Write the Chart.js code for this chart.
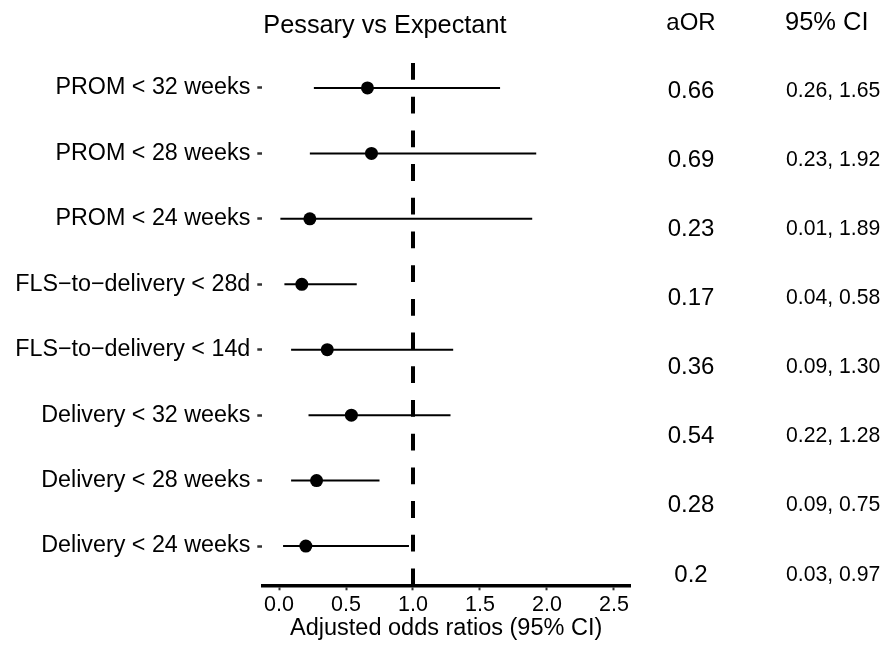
<!DOCTYPE html>
<html>
<head>
<meta charset="utf-8">
<script src="https://cdn.jsdelivr.net/npm/chart.js@4"></script>
<style>
  html, body { margin: 0; padding: 0; background: #fff; }
  #wrap { width: 886px; height: 645px; position: relative; }
</style>
</head>
<body>
<div id="wrap"><canvas id="myChart" width="886" height="645"></canvas></div>
<script>
// outcomes, top to bottom
const categories = [
    'PROM < 32 weeks',
    'PROM < 28 weeks',
    'PROM < 24 weeks',
    'FLS\u2212to\u2212delivery < 28d',
    'FLS\u2212to\u2212delivery < 14d',
    'Delivery < 32 weeks',
    'Delivery < 28 weeks',
    'Delivery < 24 weeks'
];
const aor = [0.66, 0.69, 0.23, 0.17, 0.36, 0.54, 0.28, 0.2];
const ciLow = [0.26, 0.23, 0.01, 0.04, 0.09, 0.22, 0.09, 0.03];
const ciHigh = [1.65, 1.92, 1.89, 0.58, 1.30, 1.28, 0.75, 0.97];
const xTicks = [0, 0.5, 1, 1.5, 2, 2.5];
const refLine = 1;

const FONT = "'Liberation Sans', Arial, Helvetica, sans-serif";

// dashed line at OR = 1, drawn bottom-up like ggplot
const refLinePlugin = {
    id: 'refLine',
    beforeDatasetsDraw(chart) {
        const { ctx, chartArea, scales } = chart;
        const x = scales.x.getPixelForValue(refLine);
        ctx.save();
        ctx.strokeStyle = '#000';
        ctx.lineWidth = 4;
        ctx.setLineDash([16.8, 16.9]);
        ctx.beginPath();
        ctx.moveTo(x, chartArea.bottom);
        ctx.lineTo(x, chartArea.top);
        ctx.stroke();
        ctx.restore();
    }
};

// title and the aOR / CI table on the right
const tablePlugin = {
    id: 'table',
    afterDraw(chart) {
        const { ctx, chartArea, scales } = chart;
        ctx.save();
        ctx.fillStyle = '#000';
        ctx.textBaseline = 'alphabetic';

        ctx.font = '25.3px ' + FONT;
        ctx.textAlign = 'left';
        ctx.fillText('Pessary vs Expectant', chartArea.left + 1, 33);

        ctx.font = '24px ' + FONT;
        ctx.textAlign = 'center';
        ctx.fillText('aOR', 691, 30);
        ctx.font = '25.5px ' + FONT;
        ctx.textAlign = 'left';
        ctx.fillText('95% CI', 785, 30);

        aor.forEach((v, i) => {
            const y = scales.yTable.getPixelForValue(i);
            ctx.font = '24px ' + FONT;
            ctx.textAlign = 'center';
            ctx.fillText(String(v), 691, y + 24 * 0.716 / 2);
            ctx.font = '21.2px ' + FONT;
            ctx.textAlign = 'left';
            ctx.fillText(ciLow[i].toFixed(2) + ', ' + ciHigh[i].toFixed(2), 786, y + 21.2 * 0.716 / 2);
        });
        ctx.restore();
    }
};

const ciDatasets = categories.map((c, i) => ({
    type: 'scatter',
    label: c,
    data: [{ x: ciLow[i], y: i }, { x: ciHigh[i], y: i }],
    showLine: true,
    borderColor: '#000',
    borderWidth: 2,
    pointRadius: 0,
    order: 1
}));

const pointDataset = {
    type: 'scatter',
    label: 'aOR',
    data: aor.map((v, i) => ({ x: v, y: i })),
    backgroundColor: '#000',
    borderColor: '#000',
    pointRadius: 6.5,
    pointBorderWidth: 0,
    order: 0
};

const ctx = document.getElementById('myChart').getContext('2d');
const myChart = new Chart(ctx, {
    type: 'scatter',
    data: { datasets: [pointDataset, ...ciDatasets] },
    options: {
        responsive: false,
        animation: false,
        layout: { padding: { left: 0, right: 256, top: 48.7, bottom: 0 } },
        plugins: {
            legend: { display: false },
            tooltip: { enabled: false },
            title: { display: false }
        },
        scales: {
            x: {
                type: 'linear',
                min: -0.125,
                max: 2.62,
                afterBuildTicks: (axis) => { axis.ticks = xTicks.map(v => ({ value: v })); },
                afterFit: (scale) => { scale.height = 645 - 585.3; },
                border: { display: true, color: '#000', width: 3.5 },
                grid: { drawOnChartArea: false, drawTicks: true, tickLength: 5, tickColor: '#333', tickWidth: 2 },
                ticks: {
                    color: '#000',
                    padding: 2,
                    maxRotation: 0,
                    font: { family: FONT, size: 21.5 },
                    callback: (v) => Number(v).toFixed(1)
                },
                title: {
                    display: true,
                    text: 'Adjusted odds ratios (95% CI)',
                    color: '#000',
                    font: { family: FONT, size: 23.5 },
                    padding: { top: 0, bottom: 2 }
                }
            },
            y: {
                type: 'linear',
                reverse: true,
                min: -0.6,
                max: 7.6,
                afterBuildTicks: (axis) => { axis.ticks = categories.map((c, i) => ({ value: i })); },
                afterFit: (scale) => { scale.width = 262.3; },
                border: { display: false },
                grid: { drawOnChartArea: false, drawTicks: true, tickLength: 5, tickColor: '#333', tickWidth: 2.5 },
                ticks: {
                    color: '#000',
                    padding: 7,
                    font: { family: FONT, size: 23.3 },
                    callback: (v) => categories[v]
                }
            },
            yTable: {
                type: 'linear',
                display: false,
                reverse: true,
                min: -0.583,
                max: 7.178
            }
        }
    },
    plugins: [refLinePlugin, tablePlugin]
});
</script>
</body>
</html>
